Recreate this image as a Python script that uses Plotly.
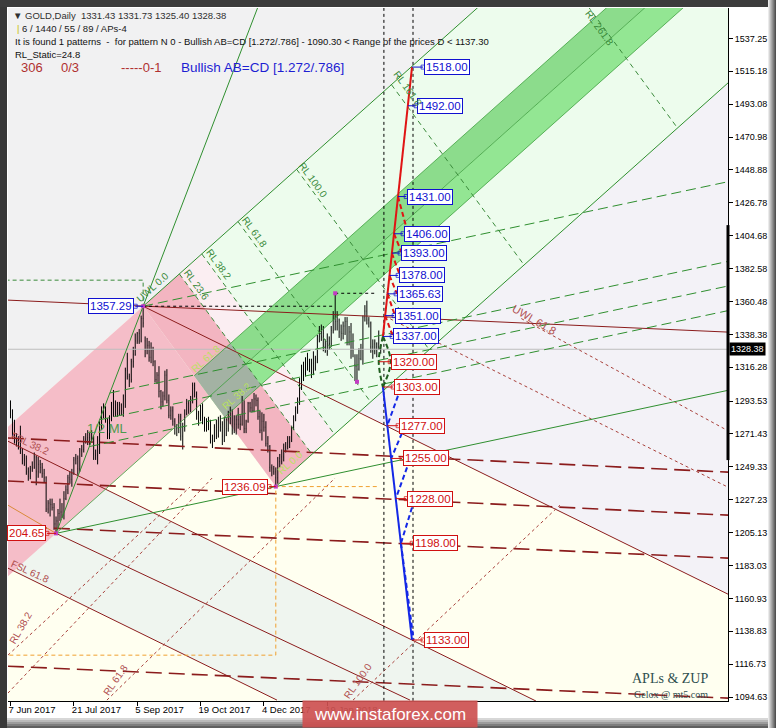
import numpy as np
import plotly.graph_objects as go

# GOLD daily bars, 7 Jun 2017 .. 27 Feb 2018 (x = bar number, MT style without gaps)
opens = [
    1293, 1287, 1280, 1271, 1266, 1267, 1261, 1254, 1255, 1246, 1243, 1248, 1249, 1256, 1246, 1251, 1249, 1245,
    1242, 1221, 1225, 1224, 1222, 1211, 1213, 1218, 1219, 1217, 1228, 1234, 1242, 1241, 1245, 1254, 1255, 1248, 1260, 1261, 1268,
    1268, 1269, 1267, 1268, 1258, 1257, 1260, 1276, 1287, 1289, 1281, 1272, 1282, 1289, 1286, 1291, 1285, 1291, 1287, 1297, 1314, 1310, 1308,
    1320, 1325, 1334, 1339, 1334, 1349, 1334, 1328, 1331, 1323, 1328, 1320, 1308, 1311, 1300, 1293, 1297, 1311, 1294, 1284, 1287,
    1280, 1272, 1275, 1283, 1270, 1276, 1285, 1292, 1287, 1295, 1304, 1298, 1285, 1282, 1290, 1279, 1276, 1276, 1277, 1266, 1268, 1276,
    1270, 1276, 1278, 1270, 1281, 1275, 1282, 1285, 1274, 1278, 1281, 1278, 1278, 1294, 1275, 1280, 1292, 1289, 1287, 1295, 1294, 1283,
    1274, 1280, 1276, 1265, 1263, 1249, 1248, 1246, 1242, 1255, 1253, 1256, 1262, 1263, 1266, 1267, 1276, 1283, 1287, 1295,
    1303, 1317, 1313, 1321, 1320, 1319, 1313, 1319, 1322, 1337, 1340, 1337, 1330, 1327, 1332, 1332, 1341, 1352, 1347, 1348, 1340, 1339,
    1344, 1347, 1333, 1340, 1328, 1318, 1317, 1315, 1322, 1329, 1350, 1354, 1348, 1346, 1330, 1327, 1332, 1330, 1331.43,
]
highs = [
    1294, 1288, 1281, 1272, 1270, 1277, 1262, 1258, 1257, 1249, 1250, 1253, 1259, 1257, 1256, 1254, 1252, 1248,
    1243, 1227, 1228, 1228, 1225, 1216, 1221, 1228, 1225, 1233, 1237, 1244, 1246, 1248, 1256, 1258, 1257, 1262, 1264, 1270, 1272,
    1274, 1273, 1274, 1270, 1261, 1270, 1280, 1290, 1292, 1290, 1282, 1284, 1293, 1301, 1294, 1293, 1293, 1292, 1298, 1316, 1326, 1312, 1322,
    1330, 1339, 1340, 1342, 1351, 1357.29, 1337, 1336, 1334, 1333, 1330, 1321, 1313, 1317, 1301, 1300, 1314, 1315, 1298, 1290, 1290,
    1282, 1278, 1285, 1285, 1279, 1288, 1295, 1294, 1297, 1306, 1306, 1300, 1287, 1291, 1292, 1283, 1282, 1283, 1281, 1271, 1278, 1281,
    1283, 1284, 1280, 1283, 1282, 1287, 1290, 1288, 1284, 1284, 1289, 1284, 1297, 1294, 1281, 1293, 1293, 1295, 1299, 1298, 1296, 1287,
    1286, 1285, 1280, 1270, 1264, 1251, 1250, 1249, 1256, 1258, 1261, 1265, 1266, 1270, 1270, 1277, 1284, 1290, 1296, 1309,
    1318, 1320, 1323, 1326, 1322, 1322, 1327, 1324, 1338, 1344, 1345, 1344, 1335, 1339, 1337, 1344, 1354, 1366, 1354, 1349, 1345, 1347,
    1350, 1350, 1344, 1346, 1339, 1325, 1325, 1329, 1332, 1351, 1358, 1361, 1350, 1347, 1335, 1335, 1333, 1341, 1331.73,
]
lows = [
    1282, 1268, 1265, 1263, 1261, 1258, 1251, 1250, 1244, 1240, 1241, 1246, 1248, 1237, 1242, 1245, 1242, 1239,
    1219, 1218, 1216, 1220, 1207, 1204.65, 1208, 1213, 1215, 1214, 1227, 1231, 1238, 1236, 1244, 1251, 1244, 1246, 1256, 1259, 1265,
    1264, 1264, 1266, 1254, 1254, 1251, 1258, 1274, 1282, 1279, 1268, 1268, 1280, 1283, 1283, 1283, 1284, 1284, 1283, 1289, 1308, 1303, 1306,
    1316, 1324, 1332, 1332, 1333, 1343, 1323, 1325, 1320, 1319, 1317, 1306, 1305, 1296, 1288, 1290, 1294, 1292, 1282, 1281, 1277,
    1271, 1270, 1272, 1267, 1261, 1273, 1284, 1285, 1286, 1292, 1296, 1281, 1277, 1280, 1278, 1273, 1273, 1274, 1265, 1262, 1266, 1268,
    1269, 1273, 1264, 1266, 1270, 1273, 1278, 1271, 1272, 1271, 1275, 1274, 1277, 1272, 1272, 1279, 1286, 1286, 1286, 1290, 1281, 1272,
    1267, 1273, 1263, 1259, 1246, 1243, 1244, 1236.09, 1238, 1249, 1251, 1253, 1259, 1261, 1262, 1266, 1274, 1280, 1285, 1291,
    1301, 1307, 1310, 1314, 1313, 1309, 1311, 1314, 1319, 1333, 1334, 1327, 1326, 1324, 1328, 1330, 1339, 1341, 1341, 1336, 1334, 1335,
    1338, 1331, 1331, 1322, 1323, 1307, 1306.5, 1314, 1321, 1318, 1347, 1345, 1343, 1326, 1322, 1325, 1323, 1328, 1325.40,
]
closes = [
    1287, 1280, 1271, 1266, 1267, 1261, 1254, 1255, 1246, 1243, 1248, 1249, 1256, 1246, 1251, 1249, 1245, 1242,
    1221, 1225, 1224, 1222, 1211, 1213, 1218, 1219, 1217, 1228, 1234, 1242, 1241, 1245, 1254, 1255, 1248, 1260, 1261, 1268, 1268,
    1269, 1267, 1268, 1258, 1257, 1260, 1276, 1287, 1289, 1281, 1272, 1282, 1289, 1286, 1291, 1285, 1291, 1287, 1297, 1314, 1310, 1308, 1320,
    1325, 1334, 1339, 1334, 1349, 1346, 1328, 1331, 1323, 1328, 1320, 1308, 1311, 1300, 1293, 1297, 1311, 1294, 1284, 1287, 1280,
    1272, 1275, 1283, 1270, 1276, 1285, 1292, 1287, 1295, 1304, 1302, 1285, 1282, 1290, 1279, 1276, 1276, 1277, 1266, 1268, 1276, 1270,
    1276, 1278, 1270, 1281, 1275, 1282, 1285, 1274, 1278, 1281, 1278, 1278, 1294, 1275, 1280, 1292, 1289, 1287, 1295, 1294, 1283, 1274,
    1280, 1276, 1265, 1263, 1249, 1248, 1246, 1242, 1255, 1253, 1256, 1262, 1263, 1266, 1267, 1276, 1283, 1287, 1295, 1303,
    1317, 1313, 1321, 1320, 1319, 1313, 1319, 1322, 1337, 1340, 1337, 1339, 1327, 1332, 1332, 1341, 1352, 1347, 1351, 1340, 1339, 1344,
    1347, 1333, 1340, 1328, 1329, 1317, 1315, 1322, 1329, 1350, 1354, 1348, 1346, 1330, 1327, 1332, 1330, 1332, 1328.38,
]
last_price = 1328.38

date_ticks = [0, 32, 64, 96, 128, 160]
date_labels = ["7 Jun 2017", "21 Jul 2017", "5 Sep 2017", "19 Oct 2017", "4 Dec 2017", "19 Jan 2018"]
price_ticks = [1537.25, 1515.18, 1493.08, 1470.98, 1448.88, 1426.78, 1404.68, 1382.58, 1360.48, 1338.38, 1316.28,
               1293.53, 1271.43, 1249.33, 1227.23, 1205.13, 1183.03, 1160.93, 1138.83, 1116.73, 1094.63]

# pitchfork pivots (bar, price)
pivot_a = (23, 1204.65)
pivot_b = (67, 1357.29)
pivot_c = (134, 1236.09)
marked_x = [23, 67, 134, 164, 175]
marked_p = [1204.65, 1357.29, 1236.09, 1366.0, 1306.5]
rl_levels = [0.236, 0.382, 0.618, 1.0, 1.618, 2.618]
ac_levels = [0.382, 0.5, 0.618, 1.0]
band_half = 23

# second (maroon) fork, lines: x0, p0, x1, p1
uwl_618 = (-1.3, 1361.4, 362.4, 1339.9)
warning_lines = [(-1.3, 1268.7, 362.4, 1245.8), (-1.3, 1239.8, 362.4, 1216.9),
                 (-1.3, 1209.5, 362.4, 1188.0), (-1.3, 1115.4, 362.4, 1093.9)]
fork_lines = [(67, 1357.29, 362.4, 1163.8), (-1.3, 1266.6, 265.4, 1092.0),
              (23, 1204.65, 201.8, 1092.6), (-1.3, 1181.3, 134.6, 1092.6)]
dotted_lines = [(189.1, 1350.6, 362.4, 1235.7), (258.0, 1349.0, 362.4, 1273.6),
                (-1.3, 1122.8, 90.6, 1235.7), (-1.3, 1097.3, 101.8, 1241.8),
                (48.7, 1092.6, 163.9, 1241.8), (173.0, 1092.6, 277.5, 1223.6)]
orange_line = (-1.3, 1223.6, 23, 1204.65)
orange_box_low = 1122.8

# AB=CD projection
red_x, red_p = [188.1, 202.8], [1337, 1518]
blue_x, blue_p = [188.1, 202.8], [1303, 1133]
red_strokes = [(195.7, 1431, 200.8, 1406), (193.7, 1406, 197.7, 1393), (192.6, 1393, 196.7, 1378),
               (191.4, 1378, 195.2, 1365.63), (190.4, 1365.63, 194.2, 1351), (189.2, 1351, 193.2, 1337)]
blue_strokes = [(195.7, 1297, 190.3, 1277), (197.7, 1272, 192.3, 1255), (200.3, 1249, 194.6, 1228),
                (202.8, 1222, 197.2, 1198), (197.2, 1198, 203.6, 1133)]
time_lines = [188.6, 203.3]
up_levels = [1518, 1492, 1431, 1406, 1393, 1378, 1365.63, 1351, 1337]
up_left = [208.8, 205.3, 200.3, 198.7, 197.2, 196.2, 195.2, 194.2, 193.2]
dn_levels = [1320, 1303, 1277, 1255, 1228, 1198, 1133]
dn_left = [192.2, 193.7, 196.2, 198.2, 200.3, 203.3, 208.8]

FONT = "Liberation Sans, Arial, sans-serif"
GREEN = "#2f8f2f"
MAROON = "#8b1c1c"
XL, XR = -6, 430

fig = go.Figure()
shapes = []
annotations = []


def line(x, y, color, width=1, dash=None):
    fig.add_trace(go.Scatter(x=x, y=y, mode="lines", hoverinfo="skip",
                             line=dict(color=color, width=width, dash=dash)))


def area(pts, color):
    # filled zone under the bars
    path = "M " + " L ".join(f"{p[0]:.3f},{p[1]:.3f}" for p in pts) + " Z"
    shapes.append(dict(type="path", xref="x", yref="y", path=path, fillcolor=color,
                       line_width=0, layer="below"))


def meet(l1, l2):
    # lines as (x0, p0, slope)
    x = (l2[1] - l1[1] + l1[2] * l1[0] - l2[2] * l2[0]) / (l1[2] - l2[2])
    return (x, l1[1] + l1[2] * (x - l1[0]))


def at(l, x):
    return l[1] + l[2] * (x - l[0])


def slope_of(seg):
    return (seg[3] - seg[1]) / (seg[2] - seg[0])


# pitchfork geometry
mid = ((pivot_b[0] + pivot_c[0]) / 2, (pivot_b[1] + pivot_c[1]) / 2)
s = (mid[1] - pivot_a[1]) / (mid[0] - pivot_a[0])
s_bc = (pivot_c[1] - pivot_b[1]) / (pivot_c[0] - pivot_b[0])
s_ac = (pivot_c[1] - pivot_a[1]) / (pivot_c[0] - pivot_a[0])
base = mid[0] - pivot_a[0]
ml = (pivot_a[0], pivot_a[1], s)
uml = (pivot_b[0], pivot_b[1], s)
lml = (pivot_c[0], pivot_c[1], s)
bc = (pivot_b[0], pivot_b[1], s_bc)
up = (pivot_a[0], pivot_a[1] + band_half, s)
lo = (pivot_a[0], pivot_a[1] - band_half, s)


def rl_start(k):
    x = pivot_b[0] + k * base
    return (x, at(uml, x))


def rl_end(k):
    x0, p0 = rl_start(k)
    return (x0 + pivot_c[0] - pivot_b[0], p0 + pivot_c[1] - pivot_b[1])


rl236 = (rl_start(0.236)[0], rl_start(0.236)[1], s_bc)
m1 = (fork_lines[0][0], fork_lines[0][1], slope_of(fork_lines[0]))
m2 = (fork_lines[1][0], fork_lines[1][1], slope_of(fork_lines[1]))
m4 = (fork_lines[3][0], fork_lines[3][1], slope_of(fork_lines[3]))

# background zones
area([(XL, at(m2, XL)), ((1080 - m2[1]) / m2[2] + m2[0], 1080),
      ((1080 - m4[1]) / m4[2] + m4[0], 1080), (XL, at(m4, XL))], "#eff5ef")
area([meet(lml, m1), (XR, at(lml, XR)), (XR, at(m1, XR))], "#f3f2f7")
area([(XL, at(uml, XL)), (pivot_b[0] + (1620 - pivot_b[1]) / s, 1620), (XL, 1620)], "#f1f1f2")
area([pivot_b, (XR, at(uml, XR)), (XR, at(lml, XR)), pivot_c], "#edfced")
area([rl_start(0.236), rl_start(0.382), rl_end(0.382), rl_end(0.236)], "#fbeef2")
area([(XL, at(uml, XL)), pivot_b, mid, (XL, at(ml, XL))], "#f5bdc8")
area([pivot_b, rl_start(0.236), rl_end(0.236), pivot_c], "#f3b5c1")
area([meet(up, bc), (XR, at(up, XR)), (XR, at(ml, XR)), mid], "#8cdc8c")
area([mid, (XR, at(ml, XR)), (XR, at(lo, XR)), meet(lo, bc)], "#93e693")
area([meet(up, bc), meet(up, rl236), meet(lo, rl236), meet(lo, bc)], "#a3b2a3")

# current price
line([XL, XR], [last_price, last_price], "#bdbdbd", 1)

# maroon fork
line([uwl_618[0], uwl_618[2]], [uwl_618[1], uwl_618[3]], MAROON, 1)
for w in warning_lines:
    line([w[0], w[2]], [w[1], w[3]], MAROON, 1.6, "16px,7px")
for f in fork_lines:
    line([f[0], f[2]], [f[1], f[3]], MAROON, 1)
for d in dotted_lines:
    line([d[0], d[2]], [d[1], d[3]], "#a8403a", 1, "3px,3px")
line([orange_line[0], orange_line[2]], [orange_line[1], orange_line[3]], "#d98a3a", 1)

# green fork
top = 1565
line([pivot_a[0], pivot_a[0] + (top - pivot_a[1]) * (pivot_b[0] - pivot_a[0]) / (pivot_b[1] - pivot_a[1])],
     [pivot_a[1], top], GREEN, 1)
line([pivot_a[0], XR], [pivot_a[1], at((pivot_a[0], pivot_a[1], s_ac), XR)], GREEN, 1)
line([pivot_b[0], XR], [pivot_b[1], at(uml, XR)], GREEN, 1)
line([pivot_c[0], XR], [pivot_c[1], at(lml, XR)], GREEN, 1)
line([pivot_a[0], XR], [pivot_a[1], at(ml, XR)], "#3f9f3f", 0.8)
for edge in (up, lo):
    p0 = meet(edge, bc)
    line([p0[0], XR], [p0[1], at(edge, XR)], "#3f9f3f", 0.8)
for f in ac_levels:
    x0 = pivot_a[0] + f * (pivot_b[0] - pivot_a[0])
    p0 = pivot_a[1] + f * (pivot_b[1] - pivot_a[1])
    line([x0, XR], [p0, at((x0, p0, s_ac), XR)], GREEN, 1, "10px,5px")
for k in rl_levels:
    a0, a1 = rl_start(k), rl_end(k)
    line([a0[0], a1[0]], [a0[1], a1[1]], "#3a8a3a", 1, "5px,4px")

# level frames
line([XL, pivot_b[0], pivot_b[0]], [1374.8, 1374.8, pivot_b[1]], "#3a8a3a", 1, "4px,3px")
line([pivot_b[0], 163], [pivot_b[1], pivot_b[1]], "black", 1, "3px,3px")
line([164, 185], [1366, 1366], "black", 1, "3px,3px")
line([185, pivot_c[0], pivot_c[0], XL], [pivot_c[1], pivot_c[1], orange_box_low, orange_box_low],
     "#f0a030", 1, "4px,3px")
for t in time_lines:
    line([t, t], [1080, 1570], "black", 1, "3px,3px")

# bars
fig.add_trace(go.Ohlc(x=list(range(len(opens))), open=opens, high=highs, low=lows, close=closes,
                      increasing_line_color="black", decreasing_line_color="black",
                      line_width=1, tickwidth=0.1, hoverinfo="skip"))
fig.add_trace(go.Scatter(x=marked_x, y=marked_p, mode="markers", hoverinfo="skip",
                         marker=dict(symbol="square", size=4, color="#c23cc2")))

# AB=CD projection
line(red_x, red_p, "#e01414", 2)
line(blue_x, blue_p, "#1428e6", 2)
for strokes, col in ((red_strokes, "#e01414"), (blue_strokes, "#1428e6")):
    xs, ys = [], []
    for st in strokes:
        xs += [st[0], st[2], None]
        ys += [st[1], st[3], None]
    fig.add_trace(go.Scatter(x=xs, y=ys, mode="lines", hoverinfo="skip",
                             line=dict(color=col, width=2, dash="5px,3px")))
for bulge in (186.0, 192.0):
    fig.add_trace(go.Scatter(x=[188.1, bulge, 188.1], y=[1337, 1320, 1303], mode="lines", line_shape="spline",
                             line=dict(color="#1e5e1e", width=2, dash="5px,3px"), hoverinfo="skip"))


def price_box(text, x, y, color, anchor="left"):
    annotations.append(dict(x=x, y=y, xref="x", yref="y", text=text, showarrow=False,
                            xanchor=anchor, yanchor="middle", bgcolor="white", bordercolor=color,
                            borderwidth=1, borderpad=1, font=dict(family=FONT, size=11.5, color=color)))


def tag(x0, x1, y, color):
    fig.add_trace(go.Scatter(x=[x0, x1], y=[y, y], mode="lines+markers", hoverinfo="skip",
                             line=dict(color=color, width=1),
                             marker=dict(symbol="square-open", size=[0, 4], color=color)))


for lvl, xl in zip(up_levels, up_left):
    tag(float(np.interp(lvl, red_p, red_x)), xl - 0.4, lvl, "#1010d0")
    price_box(f"{lvl:.2f}", xl, lvl, "#1010d0")
for lvl, xl in zip(dn_levels, dn_left):
    x0 = 186.0 if lvl == 1320 else float(np.interp(lvl, blue_p[::-1], blue_x[::-1]))
    tag(x0, xl - 0.4, lvl, "#d01010")
    price_box(f"{lvl:.2f}", xl, lvl, "#d01010")

tag(pivot_b[0], 63.0, pivot_b[1], "#1010d0")
price_box("1357.29", 62.4, pivot_b[1], "#1010d0", "right")
tag(pivot_c[0], 130.6, pivot_c[1], "#d01010")
price_box("1236.09", 130.1, pivot_c[1], "#d01010", "right")
tag(pivot_a[0], 18.4, pivot_a[1], "#d01010")
price_box("204.65", 17.9, pivot_a[1], "#d01010", "right")


def label(text, x, y, color, angle=0, size=10, family=FONT):
    annotations.append(dict(x=x, y=y, xref="x", yref="y", text=text, showarrow=False,
                            textangle=angle, font=dict(family=family, size=size, color=color)))


for k in rl_levels[:4]:
    x0, p0 = rl_start(k)
    annotations.append(dict(x=x0 + 0.06 * 67, y=p0 - 0.06 * 121.2, xref="x", yref="y", xshift=9,
                            text=f"RL {k * 100:.1f}", showarrow=False, textangle=54,
                            font=dict(family=FONT, size=10, color="#3a8a3a")))
label("RL 161.8", 200.8, 1503.9, "#3a8a3a", 54)
label("RL 261.8", 297.7, 1544.0, "#3a8a3a", 54)
label("UWL 0.0", 71.5, 1370.1, "#3a8a3a", -42)
label("RL 61.8", 98.7, 1322.4, "#b8e060", -42)
label("RL 38.2", 113.9, 1296.9, "#b8e060", -42)
label("RL 0.0", 141.2, 1252.5, "#b8e060", -42)
label("1/2 ML", 48.8, 1275.4, "#4c9a4c", 0, 13)
label("UWL 61.8", 264.9, 1348.0, "#b05050", 30, 11)
label("FSL 38.2", 9.9, 1265.3, "#b05050", 25)
label("FSL 61.8", 9.9, 1179.3, "#b05050", 25)
label("RL 38.2", 4.8, 1141.0, "#b05050", -60)
label("RL 61.8", 52.8, 1106.0, "#b05050", -55)
label("RL 100.0", 175.5, 1106.0, "#b05050", -55)


def px(x, y):
    # screen pixel -> paper coordinates (plot area is 8..728 x 8..701)
    return (x - 8) / 720, (701 - y) / 693


def note(text, x, y, color, size, family=FONT, anchor="left", **kw):
    xp, yp = px(x, y)
    annotations.append(dict(x=xp, y=yp, xref="paper", yref="paper", text=text, showarrow=False,
                            xanchor=anchor, yanchor="middle", font=dict(family=family, size=size, color=color), **kw))


note("▼ GOLD,Daily  1331.43 1331.73 1325.40 1328.38", 11, 16, "#303030", 9.5)
note("<span style='color:#c8c000'>|</span> 6 / 1440 / 55 / 89 / APs-4", 15, 29, "#202020", 9.5)
note("It is found 1 patterns  -  for pattern N 0 - Bullish AB=CD [1.272/.786] - 1090.30 &lt; Range of the prices D &lt; 1137.30",
     13, 42, "#101010", 9.5)
note("RL_Static=24.8", 13, 54, "#101010", 9.5)
note("306", 19, 68, "#b03030", 13)
note("0/3", 59, 68, "#b03030", 13)
note("-----0-1", 119, 68, "#b03030", 13)
note("Bullish AB=CD [1.272/.786]", 179, 68, "#1e1ed2", 13.5)
note("APLs &amp; ZUP", 710, 678, "#2f4f4f", 14, "Liberation Serif, serif", "right")
note("Gelox @ mt5.com", 710, 694, "#2f4f4f", 10, "Liberation Serif, serif", "right")
note("1328.38", 729, 349, "white", 9, anchor="left", bgcolor="black", borderpad=1)
note("www.instaforex.com", 390, 714, "white", 17, anchor="center",
     bgcolor="rgba(205,80,80,0.92)", width=172, height=24)

# range marker on the price scale
shapes.append(dict(type="line", xref="paper", yref="y", x0=1.0, x1=1.0, y0=1411.8, y1=1253.9,
                   line=dict(color="black", width=3), layer="above"))


# screenshot frame
def frame_rect(x0, y0, x1, y1, color):
    a0, b0 = px(x0, y0)
    a1, b1 = px(x1, y1)
    shapes.append(dict(type="rect", xref="paper", yref="paper", x0=a0, x1=a1, y0=b1, y1=b0,
                       fillcolor=color, line_width=0, layer="above"))


frame_rect(0, 0, 7, 728, "#383838")
frame_rect(0, 0, 776, 7, "#3c3c3c")
for i in range(8):
    g = int(235 - i * 22)
    frame_rect(768 + i, 0, 769 + i, 728, f"rgb({g},{g},{g})")
for i in range(5):
    g = int(215 - i * 30)
    frame_rect(7, 718 + 2 * i, 768, 720 + 2 * i, f"rgb({g},{g},{g})")

fig.update_layout(
    width=776, height=728,
    margin=dict(l=8, r=48, t=8, b=27),
    paper_bgcolor="white", plot_bgcolor="#fffff0",
    showlegend=False, hovermode=False,
    annotations=annotations, shapes=shapes,
    xaxis=dict(range=[-1.26, 362.4], tickvals=date_ticks, ticktext=date_labels,
               ticks="outside", ticklen=4, tickcolor="black", ticklabelposition="outside right",
               ticklabelshift=-3, tickfont=dict(family=FONT, size=9.5, color="black"),
               showgrid=False, zeroline=False, showline=True, linecolor="black", linewidth=1,
               rangeslider=dict(visible=False), fixedrange=True),
    yaxis=dict(range=[1092, 1557.7], side="right", tickvals=price_ticks,
               ticktext=[f"{v:.2f}" for v in price_ticks],
               ticks="outside", ticklen=4, tickcolor="black",
               tickfont=dict(family=FONT, size=9, color="black"),
               showgrid=False, zeroline=False, showline=True, linecolor="black", linewidth=1,
               fixedrange=True),
)

# page margin off so the 776x728 figure fills the window
fig.write_html("out.html", config={"displayModeBar": False},
               post_script="document.body.style.margin='0';document.body.style.overflow='hidden';")
